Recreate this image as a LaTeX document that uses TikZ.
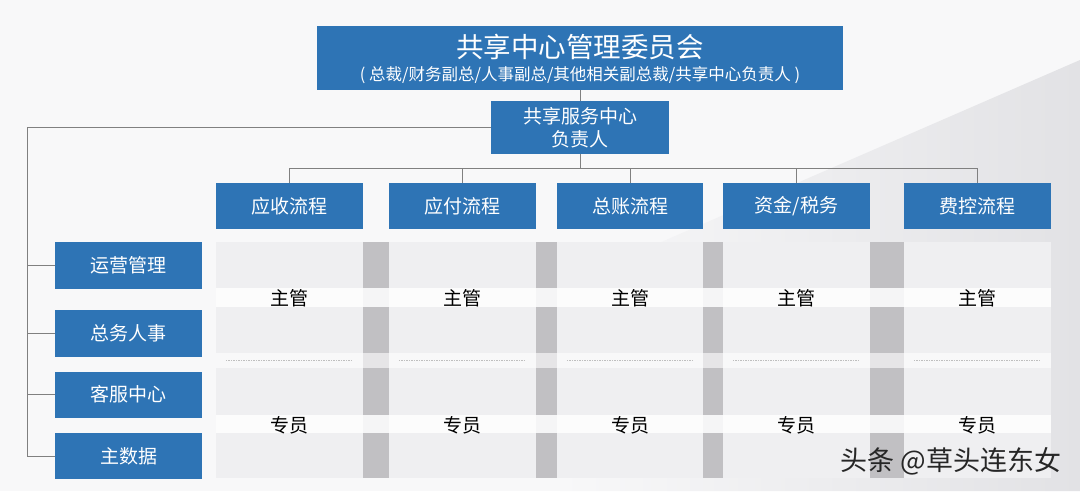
\documentclass[tikz,border=0pt]{standalone}
\usepackage{fontspec}
\setmainfont{Noto Sans CJK SC}
\usetikzlibrary{calc}
\definecolor{officeblue}{RGB}{46,116,181}
\definecolor{cellgray}{RGB}{239,239,241}
\definecolor{bargray}{RGB}{193,192,195}
\definecolor{linegray}{RGB}{128,128,128}
\definecolor{paper}{RGB}{248,248,249}
\definecolor{haze}{RGB}{226,226,229}

\begin{document}
\begin{tikzpicture}[x=1pt,y=-1pt,
	bluebox/.style={fill=officeblue, text=white, inner sep=0pt, font=\fontsize{19}{23}\selectfont},
	role/.style={text=black, inner sep=0pt, font=\fontsize{19}{23}\selectfont},
	link/.style={draw=linegray, line width=0.9pt},
	dashline/.style={draw=black!25, line width=0.5pt, dash pattern=on 1.5pt off 1pt}]

						% background
						\fill[paper] (0,0) rectangle (1080,491);
						\shade[left color=paper, right color=haze] (560,491) -- (620,260) -- (1080,60) -- (1080,491) -- cycle;
						\useasboundingbox (0,0) rectangle (1080,491);

						\def\cellTop{242}
						\def\cellBot{478}

						% committee and head
						\node[fill=officeblue, minimum width=526, minimum height=64, inner sep=0pt] (board) at (580,58) {};
						\node[text=white, inner sep=0pt, font=\fontsize{27.5}{31}\selectfont] (title) at (580,47) {共享中心管理委员会};
						\node[text=white, inner sep=0pt, font=\fontsize{16.5}{20}\selectfont] (members) at (580,75) {( 总裁/财务副总/人事副总/其他相关副总裁/共享中心负责人 )};

						\node[bluebox, minimum width=178, minimum height=53, align=center] (head) at (580,127.5) {共享服务中心\\负责人};

						% process columns
						\node[bluebox, minimum width=147, minimum height=46] (ar) at (289.5,206) {应收流程};
						\node[bluebox, minimum width=147, minimum height=46] (ap) at (462.5,206) {应付流程};
						\node[bluebox, minimum width=146, minimum height=46] (gl) at (630,206) {总账流程};
						\node[bluebox, minimum width=147, minimum height=46] (tx) at (796.5,206) {资金/税务};
						\node[bluebox, minimum width=147, minimum height=46] (ec) at (977.5,206) {费控流程};

						% support units
						\node[bluebox, minimum width=147, minimum height=47] (ops) at (128.5,265.5) {运营管理};
						\node[bluebox, minimum width=147, minimum height=47] (hr) at (128.5,333.5) {总务人事};
						\node[bluebox, minimum width=147, minimum height=46] (cs) at (128.5,394.5) {客服中心};
						\node[bluebox, minimum width=147, minimum height=46] (md) at (128.5,456) {主数据};

						% cells
						\fill[cellgray] (ar.west |- 0,\cellTop) rectangle (ar.east |- 0,\cellBot);
						\fill[cellgray] (ap.west |- 0,\cellTop) rectangle (ap.east |- 0,\cellBot);
						\fill[cellgray] (gl.west |- 0,\cellTop) rectangle (gl.east |- 0,\cellBot);
						\fill[cellgray] (tx.west |- 0,\cellTop) rectangle (tx.east |- 0,\cellBot);
						\fill[cellgray] (ec.west |- 0,\cellTop) rectangle (ec.east |- 0,\cellBot);

						\fill[bargray] (ar.east |- 0,\cellTop) rectangle (ap.west |- 0,\cellBot);
						\fill[bargray] (ap.east |- 0,\cellTop) rectangle (gl.west |- 0,\cellBot);
						\fill[bargray] (gl.east |- 0,\cellTop) rectangle (tx.west |- 0,\cellBot);
						\fill[bargray] (tx.east |- 0,\cellTop) rectangle (ec.west |- 0,\cellBot);

						\fill[white, opacity=0.85] (ar.west |- 0,288) rectangle (ec.east |- 0,307);
						\fill[white, opacity=0.6] (ar.west |- 0,353) rectangle (ec.east |- 0,368);
						\fill[white, opacity=0.85] (ar.west |- 0,415) rectangle (ec.east |- 0,433);

						\draw[dashline] ($(ar.west |- 0,360)+(10,0)$) -- ($(ar.east |- 0,360)+(-10,0)$);
						\draw[dashline] ($(ap.west |- 0,360)+(10,0)$) -- ($(ap.east |- 0,360)+(-10,0)$);
						\draw[dashline] ($(gl.west |- 0,360)+(10,0)$) -- ($(gl.east |- 0,360)+(-10,0)$);
						\draw[dashline] ($(tx.west |- 0,360)+(10,0)$) -- ($(tx.east |- 0,360)+(-10,0)$);
						\draw[dashline] ($(ec.west |- 0,360)+(10,0)$) -- ($(ec.east |- 0,360)+(-10,0)$);

						\node[role] (sup1) at (ar |- 0,298) {主管};
						\node[role] (sup2) at (ap |- 0,298) {主管};
						\node[role] (sup3) at (gl |- 0,298) {主管};
						\node[role] (sup4) at (tx |- 0,298) {主管};
						\node[role] (sup5) at (ec |- 0,298) {主管};

						\node[role] (spec1) at (ar |- 0,425) {专员};
						\node[role] (spec2) at (ap |- 0,425) {专员};
						\node[role] (spec3) at (gl |- 0,425) {专员};
						\node[role] (spec4) at (tx |- 0,425) {专员};
						\node[role] (spec5) at (ec |- 0,425) {专员};

						% connectors
						\coordinate (bus) at (0,168.5);
						\coordinate (spine) at (27,0);

						\draw[link] (board.south) -- (head.north);
						\draw[link] (head.south) -- (head.south |- bus);
						\draw[link] (ar.north) -- (ar.north |- bus) -- (ec.north |- bus) -- (ec.north);
						\draw[link] (ap.north) -- (ap.north |- bus);
						\draw[link] (gl.north) -- (gl.north |- bus);
						\draw[link] (tx.north) -- (tx.north |- bus);

						\draw[link] (head.west) -- (head.west -| spine) -- (md.west -| spine) -- (md.west);
						\draw[link] (ops.west -| spine) -- (ops.west);
						\draw[link] (hr.west -| spine) -- (hr.west);
						\draw[link] (cs.west -| spine) -- (cs.west);

						\node[text=black!85, inner sep=0pt, font=\fontsize{27}{31}\selectfont] (mark) at (951,461) {头条 @草头连东女};
					\end{tikzpicture}
\end{document}
